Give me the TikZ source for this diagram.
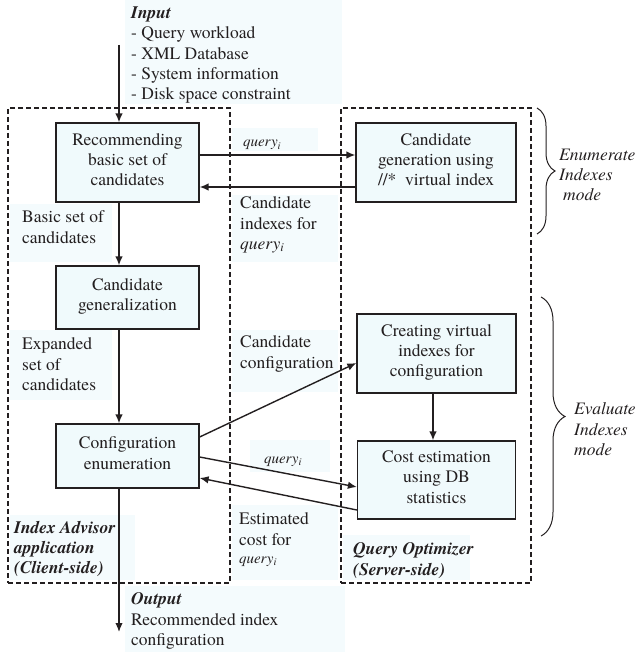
\documentclass[tikz,border=0pt]{standalone}
\usepackage{fontspec}
\setmainfont{TeX Gyre Termes}
\usetikzlibrary{arrows.meta,decorations.pathreplacing}
\definecolor{boxfill}{RGB}{240,250,252}
\definecolor{tint}{RGB}{244,251,253}
\definecolor{ink}{RGB}{35,31,32}
\newcommand{\qi}{\textit{query}\textsubscript{\textit{i}}}
\begin{document}
\begin{tikzpicture}[x=1pt,y=-1pt,
  txt/.style={font=\fontsize{17.5}{20.3}\selectfont, text=ink},
  smalltxt/.style={font=\fontsize{15}{18}\selectfont, text=ink},
  procbox/.style={txt, draw=ink, line width=1.3pt, fill=boxfill, align=center, inner sep=0pt,
    execute at begin node=\strut, execute at end node=\strut},
  lbl/.style={txt, align=left, anchor=north west, inner sep=0pt,
    execute at begin node=\strut},
  grp/.style={draw=ink, line width=1.1pt, dash pattern=on 5pt off 3pt},
  arr/.style={draw=ink, line width=1.4pt, -{Latex[length=9pt,width=7.5pt]}},
  bracestyle/.style={draw=ink, line width=1pt, decorate}
]
\useasboundingbox (0,0) rectangle (638,652);
% faint background tints behind the labels
\fill[tint] (125,0) rectangle (342,104);
\fill[tint] (10,204) rectangle (112,262);
\fill[tint] (10,330) rectangle (112,400);
\fill[tint] (232,195) rectangle (338,262);
\fill[tint] (232,330) rectangle (338,392);
\fill[tint] (232,128) rectangle (318,151);
\fill[tint] (250,440) rectangle (330,472);
\fill[tint] (232,505) rectangle (338,580);
\fill[tint] (10,515) rectangle (135,580);
\fill[tint] (343,535) rectangle (470,580);
\fill[tint] (125,586) rectangle (345,652);

% group frames
\node[grp, minimum width=222pt, minimum height=475pt] (gL) at (119,345.5) {};
\node[grp, minimum width=190pt, minimum height=475pt] (gR) at (436,345.5) {};

% process boxes
\node[procbox, minimum width=143pt, minimum height=79pt] (b1) at (127.5,162.5) {Recommending\\basic set of\\candidates};
\node[procbox, minimum width=160pt, minimum height=79pt] (b2) at (436,162.5) {Candidate\\generation using\\//*\ \ virtual index};
\node[procbox, minimum width=143pt, minimum height=63pt] (b3) at (127.5,297.5) {Candidate\\generalization};
\node[procbox, minimum width=143pt, minimum height=64pt] (b4) at (127.5,456) {Configuration\\enumeration};
\node[procbox, minimum width=159pt, minimum height=79pt] (b5) at (436.5,353.5) {Creating virtual\\indexes for\\configuration};
\node[procbox, minimum width=158pt, minimum height=78pt] (b6) at (436.5,480) {Cost estimation\\using DB\\statistics};

% labels
\node[lbl] (inp) at (131,6.6) {\textbf{\textit{Input}}\\- Query workload\\- XML Database\\- System information\\- Disk space constraint};
\node[lbl] (basic) at (22,210.6) {Basic set of\\candidates};
\node[lbl] (expd) at (22,337.6) {Expanded\\set of\\candidates};
\node[lbl] (cidx) at (240,196.6) {Candidate\\indexes for\\\qi};
\node[lbl] (ccfg) at (240,335.6) {Candidate\\configuration};
\node[lbl] (est) at (239,512.6) {Estimated\\cost for\\[-2pt]{\fontsize{15}{18}\selectfont\qi}};
\node[lbl] (ia) at (14,520.6) {\textbf{\textit{Index Advisor}}\\\textbf{\textit{application}}\\\textbf{\textit{(Client-side)}}};
\node[lbl] (qo) at (353,542.6) {\textbf{\textit{Query Optimizer}}\\\textbf{\textit{(Server-side)}}};
\node[lbl] (outp) at (131,592.6) {\textbf{\textit{Output}}\\Recommended index\\configuration};
\node[smalltxt, anchor=base west, inner sep=0pt] (q1) at (243,147) {\qi};
\node[smalltxt, anchor=base west, inner sep=0pt] (q2) at (264,463) {\qi};
\node[lbl] (enm) at (559,148.6) {\textit{Enumerate}\\\textit{Indexes}\\\hspace*{4pt}\textit{mode}};
\node[lbl] (evl) at (574,402.6) {\textit{Evaluate}\\\textit{Indexes}\\\textit{mode}};

% braces
\coordinate (br1a) at (537,108);
\coordinate (br1b) at (537,234);
\coordinate (br2a) at (541,297);
\coordinate (br2b) at (541,536);
\draw[bracestyle, decoration={brace, amplitude=18pt}] (br1a) -- (br1b);
\draw[bracestyle, decoration={brace, amplitude=24pt}] (br2a) -- (br2b);

% connectors
\coordinate (inTop) at (119,45);
\coordinate (outEnd) at (119,632);
\draw[arr] (inTop) -- (inTop |- b1.north);
\draw[arr] ([yshift=7.5pt]b1.east) -- ([yshift=7.5pt]b2.west);
\draw[arr] ([yshift=-24.5pt]b2.west) -- ([yshift=-24.5pt]b1.east);
\draw[arr] (b1.south -| inTop) -- (b3.north -| inTop);
\draw[arr] (b3.south -| inTop) -- (b4.north -| inTop);
\draw[arr] ([yshift=19pt]b4.east) -- ([yshift=-9.5pt]b5.west);
\draw[arr] ([yshift=-1pt]b4.east) -- ([yshift=-7pt]b6.west);
\draw[arr] ([yshift=-30pt]b6.west) -- ([yshift=-22pt]b4.east);
\draw[arr] ([xshift=-3.5pt]b5.south) -- ([xshift=-3.5pt]b6.north);
\draw[arr] (b4.south -| inTop) -- (outEnd);
\end{tikzpicture}
\end{document}
